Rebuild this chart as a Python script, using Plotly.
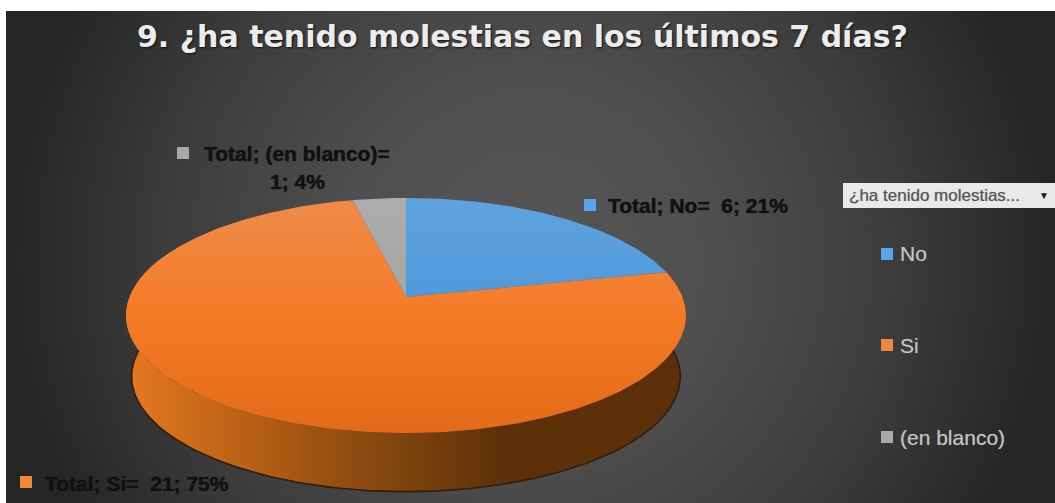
import numpy as np
import plotly.graph_objects as go

# Survey answers
categories = ["No", "Si", "(en blanco)"]
counts = [6, 21, 1]
series_name = "Total"
title_text = "9. ¿ha tenido molestias en los últimos 7 días?"
filter_text = "¿ha tenido molestias..."

face_scales = {
    "No": [[0, "#5fa3de"], [1, "#3c8dd6"]],
    "Si": [[0, "#ee8b4a"], [0.5, "#f47b26"], [1, "#e26a18"]],
    "(en blanco)": [[0, "#adadad"], [1, "#9c9c9c"]],
}
swatch = {"No": "#5aa5ea", "Si": "#f0883e", "(en blanco)": "#a9a9a9"}
side_scale = [[0, "#e4781f"], [0.25, "#b05c14"], [0.5, "#7c430e"], [0.68, "#5e3009"], [1, "#5c2f08"]]

WIDTH, HEIGHT = 1055, 503
# Projection of the tilted disc onto the page
CX, CY, R, H, K = 406.0, 297.0, 276.5, 114.6, 0.1574
DEPTH, SHRINK, MID_Y = 60.5, 0.98, 315.5


def project(angle):
    """Clockwise angle from twelve o'clock to a point on the disc rim."""
    u, v = np.sin(angle), np.cos(angle)
    s = 1.0 / (1.0 + K * v)
    return CX + R * u * s, CY - H * v * s


def lower_rim(x, y):
    return CX + (x - CX) * SHRINK, MID_Y + (y - MID_Y) * SHRINK + DEPTH


total = sum(counts)
shares = np.array(counts) / total
edges = np.concatenate([[0.0], np.cumsum(shares)]) * 2 * np.pi

fig = go.Figure()

# Dark panel with a soft glow in its middle; it runs past the page vertically
fig.add_trace(go.Scatter(
    x=[6, WIDTH, WIDTH, 6, 6], y=[-260, -260, 780, 780, -260],
    mode="lines", line=dict(width=0), fill="toself", hoverinfo="skip", showlegend=False,
    fillgradient=dict(type="radial", colorscale=[[0, "#565656"], [0.35, "#4f4f4f"], [0.7, "#3c3c3c"], [1, "#252525"]]),
))

# Pie wall: front part of the rim dropped to the lower rim, tucked under the top face
theta = np.linspace(np.pi * 0.36, np.pi * 1.64, 260)
top_x, top_y = project(theta)
low_x, low_y = lower_rim(top_x, top_y)
fig.add_trace(go.Scatter(
    x=np.concatenate([top_x, low_x[::-1], top_x[:1]]),
    y=np.concatenate([top_y, low_y[::-1], top_y[:1]]),
    mode="lines", line=dict(width=0), fill="toself", hoverinfo="skip", showlegend=False,
    fillgradient=dict(type="horizontal", colorscale=side_scale, start=130, stop=680),
))
# Dark contact edge along the wall's foot
fig.add_trace(go.Scatter(x=low_x, y=low_y + 0.5, mode="lines", line=dict(color="#2e1703", width=1.6),
                         opacity=0.85, hoverinfo="skip", showlegend=False))

# Pie top, one wedge per answer
for name, a0, a1 in zip(categories, edges[:-1], edges[1:]):
    t = np.linspace(a0, a1, max(8, int((a1 - a0) * 60)))
    x, y = project(t)
    fig.add_trace(go.Scatter(
        x=np.concatenate([[CX], x, [CX]]), y=np.concatenate([[CY], y, [CY]]),
        mode="lines", line=dict(width=0), fill="toself", name=name, showlegend=False,
        fillgradient=dict(type="vertical", colorscale=face_scales[name], start=198, stop=434),
    ))

# Data-label swatches and side key swatches
label_swatches = {"No": (590, 205), "Si": (26, 482), "(en blanco)": (183, 153)}
key_rows = {"No": 254, "Si": 345, "(en blanco)": 437}
for name in categories:
    lx, ly = label_swatches[name]
    fig.add_trace(go.Scatter(x=[lx, 887], y=[ly, key_rows[name]], mode="markers",
                             marker=dict(symbol="square", size=12, color=swatch[name]),
                             hoverinfo="skip", showlegend=False))

annotations = []


def note(x, y, text, size, color, bold=False, anchor="left", family="Liberation Sans", shadow="none"):
    annotations.append(dict(
        x=x, y=y, xref="x", yref="y", text=f"<b>{text}</b>" if bold else text, showarrow=False,
        xanchor=anchor, yanchor="middle", align=anchor, borderpad=0,
        font=dict(size=size, color=color, family=family, shadow=shadow),
    ))


def data_label(name):
    n = counts[categories.index(name)]
    return n, round(100 * n / total)


note(522, 37, title_text, 30, "#ececec", bold=True, anchor="center", family="DejaVu Sans",
     shadow="1px 1px 2px #111111")

soft = "0 0 1px #111111"
n, pct = data_label("(en blanco)")
note(203, 154, f"{series_name}; (en blanco)=", 21, "#111111", bold=True, shadow=soft)
note(297, 182, f"{n}; {pct}%", 21, "#111111", bold=True, anchor="center", shadow=soft)
n, pct = data_label("No")
note(607, 206, f"{series_name}; No=  {n}; {pct}%", 21, "#111111", bold=True, shadow=soft)
n, pct = data_label("Si")
note(44, 483, f"{series_name}; Si=  {n}; {pct}%", 21, "#111111", bold=True, shadow=soft)

for name in categories:
    note(899, key_rows[name], name, 21, "#c4c4c4", shadow="0 0 1px #777777")

# Filter button above the key
shapes = [dict(type="rect", xref="x", yref="y", x0=843, x1=WIDTH, y0=183, y1=208, layer="above",
               line=dict(width=0), fillcolor="#e9e9e9")]
note(848, 195.5, filter_text, 17, "#555555", shadow="0 0 1px #999999")
note(1044, 195.5, "▼", 10, "#222222", anchor="center")

fig.update_layout(
    width=WIDTH, height=HEIGHT, autosize=False,
    margin=dict(l=0, r=0, t=0, b=0),
    paper_bgcolor="#ffffff", plot_bgcolor="#ffffff",
    showlegend=False, shapes=shapes, annotations=annotations,
    xaxis=dict(range=[0, WIDTH], visible=False, fixedrange=True),
    yaxis=dict(range=[HEIGHT, 11], domain=[0, (HEIGHT - 11) / HEIGHT], visible=False, fixedrange=True),
)

fig.write_html("out.html", config=dict(displayModeBar=False))
